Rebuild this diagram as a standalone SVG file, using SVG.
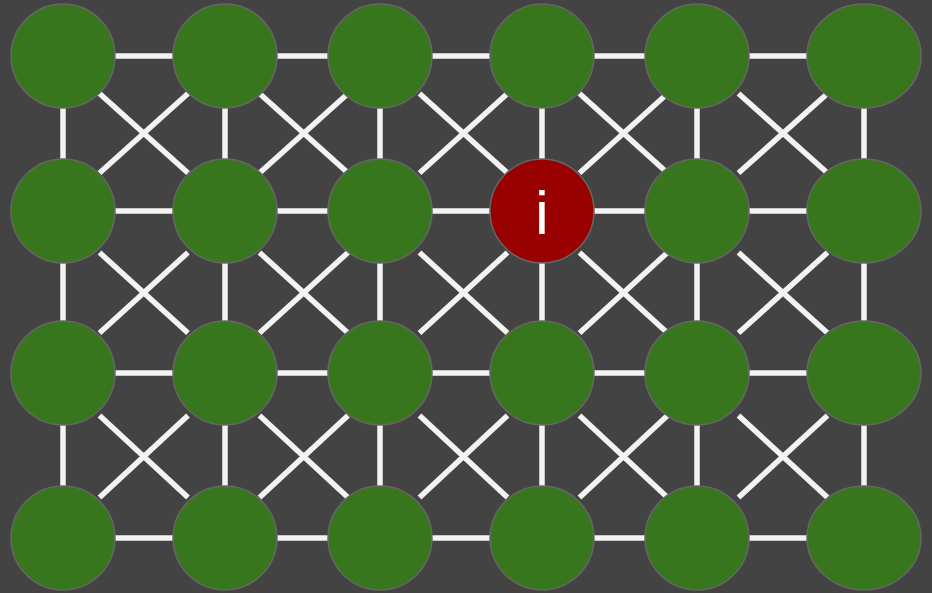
<svg xmlns="http://www.w3.org/2000/svg" width="932" height="593" viewBox="0 0 932 593">
  <style>
    .edge { stroke: #f3f3f3; stroke-width: 5.5; fill: none; stroke-linecap: butt; }
    .node { fill: #38761d; stroke: #666666; stroke-width: 1.5; }
    .node.hot { fill: #990000; }
    .label { fill: #ffffff; font-family: "Liberation Sans", Arial, sans-serif; font-size: 62px; text-anchor: middle; }
  </style>
  <rect x="0" y="0" width="932" height="593" fill="#434343"/>
  <!-- lattice connectors: horizontal, vertical and crossed diagonals -->
  <g id="connectors">
    <!-- horizontals -->
    <path class="edge" d="M63 56H864 M63 211H864 M63 373H864 M63 538H864"/>
    <!-- verticals -->
    <path class="edge" d="M63 56V538 M225 56V538 M380 56V538 M542 56V538 M697 56V538 M864 56V538"/>
    <!-- diagonals, row band 1 -->
    <path class="edge" d="M99.5 93.5L188 173 M188 93.5L99.5 173
                          M259.5 93.5L348 173 M348 93.5L259.5 173
                          M419.5 93.5L507.5 173 M507.5 93.5L419.5 173
                          M579.5 93.5L667.5 173 M667.5 93.5L579.5 173
                          M738.5 93.5L827.5 173 M827.5 93.5L738.5 173"/>
    <!-- diagonals, row band 2 -->
    <path class="edge" d="M99.5 252.5L188 333 M188 252.5L99.5 333
                          M259.5 252.5L348 333 M348 252.5L259.5 333
                          M419.5 252.5L507.5 333 M507.5 252.5L419.5 333
                          M579.5 252.5L667.5 333 M667.5 252.5L579.5 333
                          M738.5 252.5L827.5 333 M827.5 252.5L738.5 333"/>
    <!-- diagonals, row band 3 -->
    <path class="edge" d="M99.5 415.5L188 497.5 M188 415.5L99.5 497.5
                          M259.5 415.5L348 497.5 M348 415.5L259.5 497.5
                          M419.5 415.5L507.5 497.5 M507.5 415.5L419.5 497.5
                          M579.5 415.5L667.5 497.5 M667.5 415.5L579.5 497.5
                          M738.5 415.5L827.5 497.5 M827.5 415.5L738.5 497.5"/>
  </g>
  <!-- row 1 -->
  <g id="n-0-0"><circle class="node" cx="63" cy="56" r="52"/></g>
  <g id="n-0-1"><circle class="node" cx="225" cy="56" r="52"/></g>
  <g id="n-0-2"><circle class="node" cx="380" cy="56" r="52"/></g>
  <g id="n-0-3"><circle class="node" cx="542" cy="56" r="52"/></g>
  <g id="n-0-4"><circle class="node" cx="697" cy="56" r="52"/></g>
  <g id="n-0-5"><ellipse class="node" cx="864" cy="56" rx="57" ry="52"/></g>
  <!-- row 2 -->
  <g id="n-1-0"><circle class="node" cx="63" cy="211" r="52"/></g>
  <g id="n-1-1"><circle class="node" cx="225" cy="211" r="52"/></g>
  <g id="n-1-2"><circle class="node" cx="380" cy="211" r="52"/></g>
  <g id="n-1-3"><circle class="node hot" cx="542" cy="211" r="52"/><text class="label" x="542" y="234">i</text></g>
  <g id="n-1-4"><circle class="node" cx="697" cy="211" r="52"/></g>
  <g id="n-1-5"><ellipse class="node" cx="864" cy="211" rx="57" ry="52"/></g>
  <!-- row 3 -->
  <g id="n-2-0"><circle class="node" cx="63" cy="373" r="52"/></g>
  <g id="n-2-1"><circle class="node" cx="225" cy="373" r="52"/></g>
  <g id="n-2-2"><circle class="node" cx="380" cy="373" r="52"/></g>
  <g id="n-2-3"><circle class="node" cx="542" cy="373" r="52"/></g>
  <g id="n-2-4"><circle class="node" cx="697" cy="373" r="52"/></g>
  <g id="n-2-5"><ellipse class="node" cx="864" cy="373" rx="57" ry="52"/></g>
  <!-- row 4 -->
  <g id="n-3-0"><circle class="node" cx="63" cy="538" r="52"/></g>
  <g id="n-3-1"><circle class="node" cx="225" cy="538" r="52"/></g>
  <g id="n-3-2"><circle class="node" cx="380" cy="538" r="52"/></g>
  <g id="n-3-3"><circle class="node" cx="542" cy="538" r="52"/></g>
  <g id="n-3-4"><circle class="node" cx="697" cy="538" r="52"/></g>
  <g id="n-3-5"><ellipse class="node" cx="864" cy="538" rx="57" ry="52"/></g>
</svg>
